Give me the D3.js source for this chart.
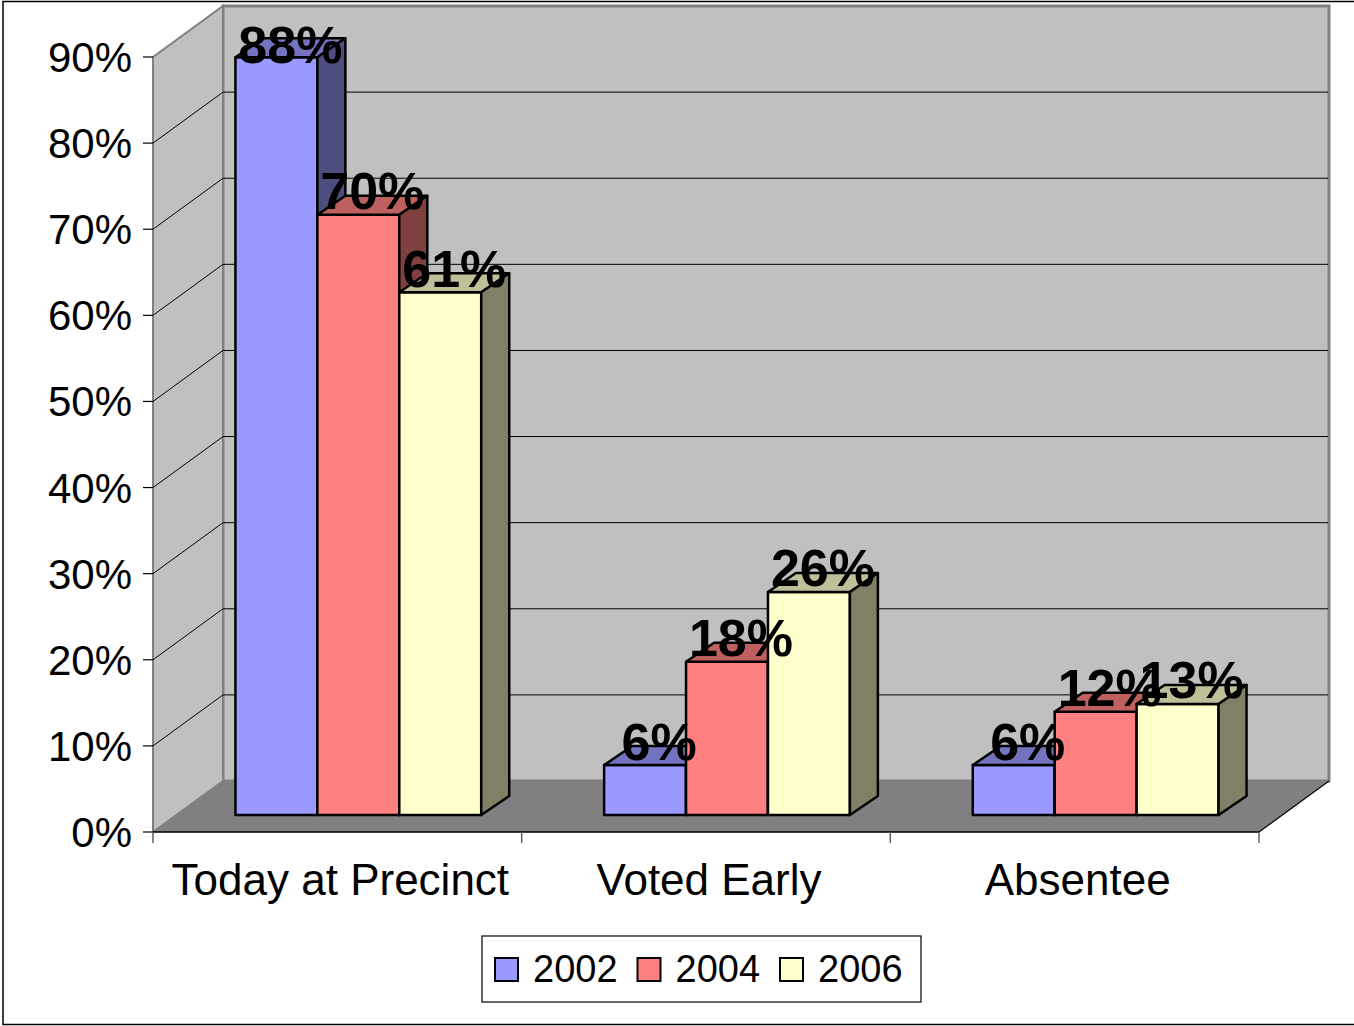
<!DOCTYPE html>
<html>
<head>
<meta charset="utf-8">
<script src="https://cdn.jsdelivr.net/npm/d3@7"></script>
<style>
  body { margin: 0; background: #fff; }
  text { font-family: "Liberation Sans", Arial, sans-serif; }
</style>
</head>
<body>
<div id="chart"></div>
<script>
var categories = ["Today at Precinct", "Voted Early", "Absentee"];
var years = ["2002", "2004", "2006"];
var v2002 = [0.88, 0.058, 0.058];
var v2004 = [0.697, 0.178, 0.12];
var v2006 = [0.607, 0.259, 0.129];
var yTicks = [0, 0.1, 0.2, 0.3, 0.4, 0.5, 0.6, 0.7, 0.8, 0.9];

var series = [
  {name: years[0], values: v2002, front: "#9999FF", top: "#7373BF", side: "#4D4D80"},
  {name: years[1], values: v2004, front: "#FF8080", top: "#BF6060", side: "#804040"},
  {name: years[2], values: v2006, front: "#FFFFCC", top: "#BFBF99", side: "#808066"}
];

var width = 1354, height = 1026;

// front plane scales
var x = d3.scaleBand().domain(categories).range([153, 1259]);
var y = d3.scaleLinear().domain([0, 0.9]).range([832, 57]);

// depth of the whole floor, of the bar front plane and of the bars
var depth = {dx: 70, dy: -51};
var barPlane = {dx: 23, dy: -17};
var barDepth = {dx: 28, dy: -19};

var groupW = x.bandwidth() * 2 / 3;
var x1 = d3.scaleBand().domain(years).range([0, groupW]);

var svg = d3.select("#chart").append("svg")
  .attr("width", width)
  .attr("height", height);

// chart border
svg.append("rect")
  .attr("x", 3).attr("y", 1.5)
  .attr("width", 1400).attr("height", 1023)
  .attr("fill", "#fff").attr("stroke", "#000").attr("stroke-width", 1.5);

var x0 = x.range()[0], xEnd = x.range()[1];

function pts(a) { return a.map(function(p) { return p.join(","); }).join(" "); }

// back wall
svg.append("rect")
  .attr("x", x0 + depth.dx).attr("y", y(0.9) + depth.dy)
  .attr("width", xEnd - x0).attr("height", y(0) - y(0.9))
  .attr("fill", "#C0C0C0").attr("stroke", "#808080").attr("stroke-width", 3);

// side wall
svg.append("polygon")
  .attr("points", pts([[x0, y(0)], [x0, y(0.9)], [x0 + depth.dx, y(0.9) + depth.dy], [x0 + depth.dx, y(0) + depth.dy]]))
  .attr("fill", "#C0C0C0").attr("stroke", "#808080").attr("stroke-width", 2);

// floor
svg.append("polygon")
  .attr("points", pts([[x0, y(0)], [xEnd, y(0)], [xEnd + depth.dx, y(0) + depth.dy], [x0 + depth.dx, y(0) + depth.dy]]))
  .attr("fill", "#808080");

svg.append("line")
  .attr("x1", x0).attr("x2", xEnd).attr("y1", y(0)).attr("y2", y(0))
  .attr("stroke", "#000").attr("stroke-width", 1.5);
svg.append("line")
  .attr("x1", xEnd).attr("x2", xEnd + depth.dx).attr("y1", y(0)).attr("y2", y(0) + depth.dy)
  .attr("stroke", "#000").attr("stroke-width", 1.2);

// gridlines on back and side walls
var grid = yTicks.filter(function(d) { return d > 0 && d < 0.9; });
svg.selectAll(".gridBack").data(grid).enter().append("line")
  .attr("x1", x0 + depth.dx).attr("x2", xEnd + depth.dx - 1)
  .attr("y1", function(d) { return y(d) + depth.dy; })
  .attr("y2", function(d) { return y(d) + depth.dy; })
  .attr("stroke", "#000").attr("stroke-width", 1);
svg.selectAll(".gridSide").data(grid).enter().append("line")
  .attr("x1", x0).attr("x2", x0 + depth.dx)
  .attr("y1", function(d) { return y(d); })
  .attr("y2", function(d) { return y(d) + depth.dy; })
  .attr("stroke", "#000").attr("stroke-width", 1);

// y axis
svg.selectAll(".ytick").data(yTicks).enter().append("line")
  .attr("x1", x0 - 10).attr("x2", x0)
  .attr("y1", function(d) { return y(d); })
  .attr("y2", function(d) { return y(d); })
  .attr("stroke", "#000").attr("stroke-width", 1.2);
svg.selectAll(".ylabel").data(yTicks).enter().append("text")
  .attr("x", 132)
  .attr("y", function(d) { return y(d) + 15; })
  .attr("text-anchor", "end")
  .attr("font-size", 42)
  .text(d3.format(".0%"));

// x axis ticks and labels
var xTickPos = categories.map(function(c) { return x(c); }).concat([xEnd]);
svg.selectAll(".xtick").data(xTickPos).enter().append("line")
  .attr("x1", function(d) { return d; }).attr("x2", function(d) { return d; })
  .attr("y1", y(0)).attr("y2", y(0) + 11)
  .attr("stroke", "#606060").attr("stroke-width", 1.5);
svg.selectAll(".xlabel").data(categories).enter().append("text")
  .attr("x", function(d) { return x(d) + x.bandwidth() / 2 + 3; })
  .attr("y", 895)
  .attr("text-anchor", "middle")
  .attr("font-size", 44)
  .text(function(d) { return d; });

// 3D bars
var bars = [];
categories.forEach(function(c, ci) {
  series.forEach(function(s) {
    var left = x(c) + barPlane.dx + (x.bandwidth() - groupW) / 2 - 2 + x1(s.name);
    bars.push({
      x: left, w: x1.bandwidth(),
      yTop: y(s.values[ci]) + barPlane.dy, yBase: y(0) + barPlane.dy,
      value: s.values[ci], s: s
    });
  });
});

var barG = svg.selectAll(".bar").data(bars).enter().append("g").attr("class", "bar");
barG.append("polygon")
  .attr("points", function(d) {
    return pts([[d.x, d.yTop], [d.x + d.w, d.yTop], [d.x + d.w, d.yBase], [d.x, d.yBase]]);
  })
  .attr("fill", function(d) { return d.s.front; });
barG.append("polygon")
  .attr("points", function(d) {
    return pts([[d.x, d.yTop], [d.x + barDepth.dx, d.yTop + barDepth.dy],
      [d.x + d.w + barDepth.dx, d.yTop + barDepth.dy], [d.x + d.w, d.yTop]]);
  })
  .attr("fill", function(d) { return d.s.top; });
barG.append("polygon")
  .attr("points", function(d) {
    return pts([[d.x + d.w, d.yTop], [d.x + d.w + barDepth.dx, d.yTop + barDepth.dy],
      [d.x + d.w + barDepth.dx, d.yBase + barDepth.dy], [d.x + d.w, d.yBase]]);
  })
  .attr("fill", function(d) { return d.s.side; });
barG.selectAll("polygon")
  .attr("stroke", "#000").attr("stroke-width", 2.5).attr("stroke-linejoin", "round");

// data labels
svg.selectAll(".dlabel").data(bars).enter().append("text")
  .attr("x", function(d) { return d.x + (d.w + barDepth.dx) / 2; })
  .attr("y", function(d) {
    var cy = d.yTop + barDepth.dy / 2 - 14;
    return Math.max(cy, 45) + 18;
  })
  .attr("text-anchor", "middle")
  .attr("font-size", 52)
  .attr("font-weight", "bold")
  .text(function(d) { return d3.format(".0%")(d.value); });

// legend
var legend = svg.append("g");
legend.append("rect")
  .attr("x", 482).attr("y", 936).attr("width", 439).attr("height", 66)
  .attr("fill", "#fff").attr("stroke", "#000").attr("stroke-width", 1.2);
var lx = d3.scalePoint().domain(years).range([495, 780]);
var item = legend.selectAll(".item").data(series).enter().append("g")
  .attr("transform", function(d) { return "translate(" + lx(d.name) + ",958)"; });
item.append("rect")
  .attr("width", 23).attr("height", 23)
  .attr("fill", function(d) { return d.front; })
  .attr("stroke", "#000").attr("stroke-width", 2);
item.append("text")
  .attr("x", 38).attr("y", 24)
  .attr("font-size", 38)
  .text(function(d) { return d.name; });
</script>
</body>
</html>
